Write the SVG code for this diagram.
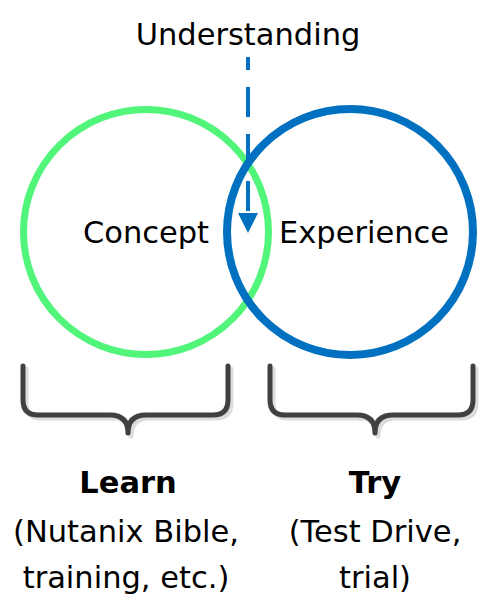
<svg xmlns="http://www.w3.org/2000/svg" width="483" height="613" viewBox="0 0 483 613">
<style>
text{font-family:"DejaVu Sans","Liberation Sans",sans-serif;fill:#000;text-anchor:middle}
.lbl{font-size:30.5px}
.cap{font-size:30.5px}
.b{font-weight:bold}
.br{fill:none;stroke:#404040;stroke-width:5;stroke-linecap:round;stroke-linejoin:round}
.sh{fill:none;stroke:#dcdcdc;stroke-width:5;stroke-linecap:round;stroke-linejoin:round}
</style>
<rect width="483" height="613" fill="#fff"/>
<g id="concept">
<circle cx="146" cy="232" r="122.5" fill="none" stroke="#50F57A" stroke-width="7"/>
<text class="lbl" x="146" y="243">Concept</text>
</g>
<g id="experience">
<circle cx="350" cy="232" r="123" fill="none" stroke="#0070C0" stroke-width="8"/>
<text class="lbl" x="364" y="243">Experience</text>
</g>
<g id="understanding">
<text class="lbl" x="248" y="45">Understanding</text>
</g>
<g id="connectors">
<line x1="248" y1="57" x2="248" y2="213" stroke="#0070C0" stroke-width="4" stroke-dasharray="30 17" stroke-dashoffset="17"/>
<polygon points="238,213 258,213 248,233" fill="#0070C0"/>
</g>
<g id="learn">
<path class="sh" d="M26,369 V403 Q26,418 41,418 H113 Q131,418 131,436 Q131,418 149,418 H216 Q231,418 231,403 V369"/>
<path class="br" d="M23,366 V400 Q23,415 38,415 H110 Q128,415 128,433 Q128,415 146,415 H213 Q228,415 228,400 V366"/>
<text class="cap b" x="128" y="493">Learn</text>
<text class="cap" x="126" y="542">(Nutanix Bible,</text>
<text class="cap" x="126" y="588">training, etc.)</text>
</g>
<g id="try">
<path class="sh" d="M273,369 V403 Q273,418 288,418 H360 Q378,418 378,436 Q378,418 396,418 H461 Q476,418 476,403 V369"/>
<path class="br" d="M270,366 V400 Q270,415 285,415 H357 Q375,415 375,433 Q375,415 393,415 H458 Q473,415 473,400 V366"/>
<text class="cap b" x="375" y="493">Try</text>
<text class="cap" x="375" y="542">(Test Drive,</text>
<text class="cap" x="375" y="588">trial)</text>
</g>
</svg>
